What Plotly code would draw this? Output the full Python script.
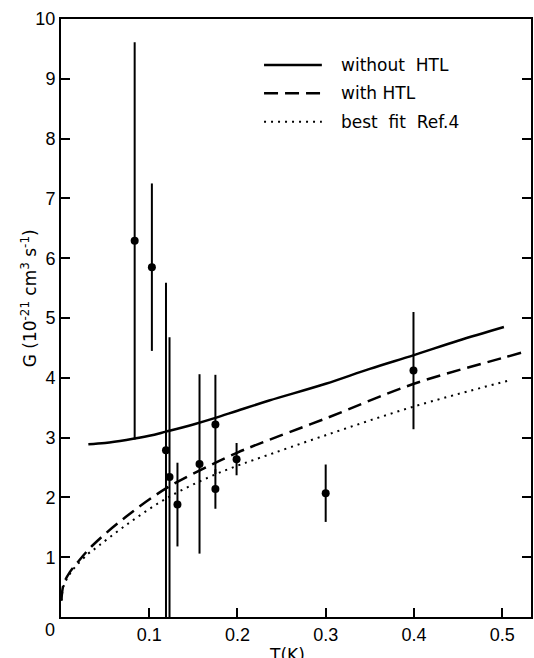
import plotly.graph_objects as go

# ---- data ----
pt_T = [0.0835, 0.103, 0.119, 0.123, 0.132, 0.157, 0.175, 0.175, 0.199, 0.300, 0.3995]
pt_G = [6.29, 5.85, 2.79, 2.34, 1.88, 2.56, 3.22, 2.14, 2.64, 2.07, 4.12]
pt_err_up = [3.32, 1.40, 2.80, 2.34, 0.70, 1.50, 0.83, 0.33, 0.27, 0.48, 0.98]
pt_err_dn = [3.32, 1.40, 2.79, 2.34, 0.70, 1.50, 0.83, 0.33, 0.27, 0.48, 0.98]

noHTL_T = [0.031, 0.05, 0.074, 0.10, 0.119, 0.15, 0.175, 0.20, 0.236, 0.30, 0.35, 0.40, 0.45, 0.502]
noHTL_G = [2.89, 2.91, 2.96, 3.03, 3.10, 3.22, 3.33, 3.45, 3.62, 3.90, 4.15, 4.38, 4.62, 4.85]

HTL_T = [0.0005, 0.003, 0.010, 0.018, 0.036, 0.074, 0.119, 0.168, 0.200, 0.225, 0.300, 0.400, 0.500, 0.522]
HTL_G = [0.28, 0.55, 0.75, 0.90, 1.20, 1.68, 2.15, 2.53, 2.75, 2.90, 3.32, 3.90, 4.33, 4.42]

fit_T = [0.0005, 0.003, 0.010, 0.018, 0.031, 0.0365, 0.074, 0.119, 0.168, 0.200, 0.225, 0.300, 0.400, 0.509]
fit_G = [0.27, 0.52, 0.72, 0.87, 1.06, 1.12, 1.54, 1.98, 2.34, 2.53, 2.66, 3.04, 3.52, 3.96]

x_ticks = [0.1, 0.2, 0.3, 0.4, 0.5]
x_ticklabels = ["0.1", "0.2", "0.3", "0.4", "0.5"]
y_ticks = [1, 2, 3, 4, 5, 6, 7, 8, 9, 10]
y_ticklabels = [str(v) for v in y_ticks]

legend_labels = ["without  HTL", "with HTL", "best  fit  Ref.4"]
legend_dashes = ["solid", "14px,7px", "2px,5px"]

TICK_FONT = dict(family="Liberation Sans Narrow, Liberation Sans, Arial", size=18, color="black")
TEXT_FONT = dict(family="DejaVu Sans, Liberation Sans", size=17, color="black")

fig = go.Figure()

fig.add_trace(go.Scatter(x=noHTL_T, y=noHTL_G, mode="lines", line_shape="spline",
                         line=dict(color="black", width=2.5, dash=legend_dashes[0]),
                         showlegend=False))
fig.add_trace(go.Scatter(x=HTL_T, y=HTL_G, mode="lines", line_shape="spline",
                         line=dict(color="black", width=2.5, dash=legend_dashes[1]),
                         showlegend=False))
fig.add_trace(go.Scatter(x=fit_T, y=fit_G, mode="lines", line_shape="spline",
                         line=dict(color="black", width=2, dash=legend_dashes[2]),
                         showlegend=False))
fig.add_trace(go.Scatter(x=pt_T, y=pt_G, mode="markers",
                         marker=dict(color="black", size=8),
                         error_y=dict(type="data", symmetric=False, array=pt_err_up,
                                      arrayminus=pt_err_dn, width=0, thickness=2,
                                      color="black"),
                         showlegend=False))

# legend drawn manually (paper coordinates)
leg_y = [0.923, 0.876, 0.828]
for lab, dsh, yy in zip(legend_labels, legend_dashes, leg_y):
    fig.add_shape(type="line", xref="paper", yref="paper", x0=0.432, x1=0.555,
                  y0=yy, y1=yy, line=dict(color="black", width=2.5 if dsh != "2px,5px" else 2, dash=dsh))
    fig.add_annotation(xref="paper", yref="paper", x=0.591, y=yy, text=lab,
                       showarrow=False, xanchor="left", yanchor="middle", font=TEXT_FONT)

# corner "0" label
fig.add_annotation(xref="paper", yref="paper", x=-0.023, y=-0.022, text="0",
                   showarrow=False, xanchor="center", yanchor="middle", font=TICK_FONT)
# axis titles
fig.add_annotation(xref="paper", yref="paper", x=-0.068, y=0.533,
                   text="G (10<sup>-21</sup> cm<sup>3</sup> s<sup>-1</sup>)", textangle=-90,
                   showarrow=False, xanchor="center", yanchor="middle", font=TEXT_FONT)
fig.add_annotation(xref="paper", yref="paper", x=0.481, y=-0.0435, text="T(K)",
                   showarrow=False, xanchor="center", yanchor="top", font=TEXT_FONT)

fig.update_xaxes(range=[0, 0.5327], tickvals=x_ticks, ticktext=x_ticklabels,
                 ticks="inside", ticklen=9, tickwidth=1.5, tickcolor="black",
                 showline=True, linecolor="black", linewidth=2, mirror=True,
                 showgrid=False, zeroline=False, tickfont=TICK_FONT)
fig.update_yaxes(range=[0, 10], tickvals=y_ticks, ticktext=y_ticklabels,
                 ticks="inside", ticklen=9, tickwidth=1.5, tickcolor="black",
                 showline=True, linecolor="black", linewidth=2, mirror="ticks",
                 showgrid=False, zeroline=False, tickfont=TICK_FONT)

fig.update_layout(width=534, height=658, margin=dict(l=61, r=1, t=19, b=41),
                  plot_bgcolor="white", paper_bgcolor="white", showlegend=False)

fig.write_html("out.html", config={"displayModeBar": False},
               post_script="document.body.style.margin='0';document.body.style.overflow='hidden';")
